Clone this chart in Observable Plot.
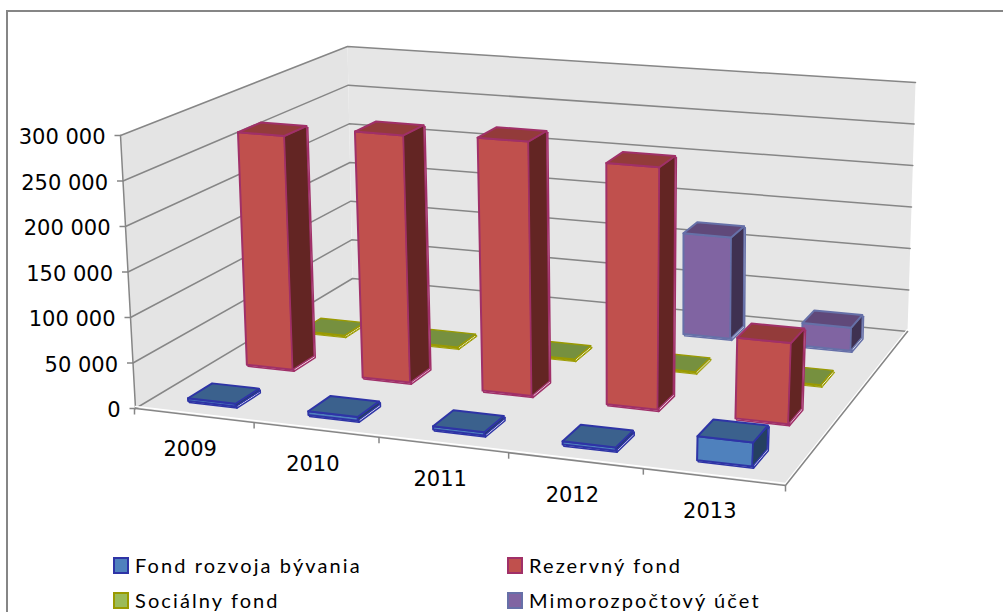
<!DOCTYPE html>
<html><head><meta charset="utf-8">
<script src="https://cdn.jsdelivr.net/npm/d3@7"></script>
<script src="https://cdn.jsdelivr.net/npm/@observablehq/plot@0.6"></script>
<style>
html,body{margin:0;padding:0;background:#fff;overflow:hidden}
#page{position:relative;width:1003px;height:612px;overflow:hidden}
#frame{position:absolute;left:6px;top:10px;width:1100px;height:700px;border-left:2px solid #868686;border-top:2px solid #868686}
#chart{position:absolute;left:0;top:0}
.lg{position:absolute;font:20px "Lato",sans-serif;letter-spacing:2.1px;color:#000;white-space:nowrap;line-height:20px}
.sw{position:absolute;width:12px;height:13px;border:2px solid}
</style></head><body>
<div id="page"><div id="frame"></div><div id="chart"></div><div id="legend"></div></div>
<script>
const years = ["2009","2010","2011","2012","2013"];
const seriesNames = ["Fond rozvoja bývania","Rezervný fond","Sociálny fond","Mimorozpočtový účet"];
const fondRozvoja = [3000,4000,3500,3500,25000];
const rezervny = [268500,280000,284000,267000,88000];
const socialny = [1000,1000,1000,1000,1000];
const mimorozpoctovy = [null,null,null,121000,27000];
const yTicks = [0,50000,100000,150000,200000,250000,300000];
const tickLabels = ["0","50 000","100 000","150 000","200 000","250 000","300 000"];
const faceColors = ["#4f81bd","#c0504d","#9bbb59","#8064a2"];
const topColors = ["#3b618d","#933b3a","#76903f","#60497a"];
const sideColors = ["#254061","#632523","#4f6228","#3f3151"];
const edgeColors = ["#2e34a6","#a03068","#9a9a00","#6670a8"];
const edgeWidths = [2,2,1.3,2];
const values = [fondRozvoja,rezervny,socialny,mimorozpoctovy];

// 3D → picture: perspective maps of the floor and the ceiling of the chart box
function quadMap(p0,p1,p2,p3){ // (0,0),(1,0),(1,1),(0,1)
  const dx1=p1[0]-p2[0],dx2=p3[0]-p2[0],sx=p0[0]-p1[0]+p2[0]-p3[0];
  const dy1=p1[1]-p2[1],dy2=p3[1]-p2[1],sy=p0[1]-p1[1]+p2[1]-p3[1];
  const d=dx1*dy2-dx2*dy1;
  const g=(sx*dy2-dx2*sy)/d,h=(dx1*sy-sx*dy1)/d;
  const a=p1[0]-p0[0]+g*p1[0],b=p3[0]-p0[0]+h*p3[0],c=p0[0];
  const e=p1[1]-p0[1]+g*p1[1],f=p3[1]-p0[1]+h*p3[1],k=p0[1];
  return (u,v)=>{const w=g*u+h*v+1;return [(a*u+b*v+c)/w,(e*u+f*v+k)/w];};
}
const floorMap = quadMap([135,408],[785,485],[907,331],[352,278]);
const ceilMap = quadMap([120,135],[798,192],[915,82],[347,46]);
const maxV = 300000;
function P(u,v,val){
  const a=floorMap(u,v),b=ceilMap(u,v),t=val/maxV;
  return [a[0]+(b[0]-a[0])*t,a[1]+(b[1]-a[1])*t];
}
const nC=years.length,nS=seriesNames.length,bw=0.4,uShift=-0.003;
const poly=(pts,o)=>Plot.line(pts,{x:d=>d[0],y:d=>d[1],strokeLinejoin:"round",...o});
const marks=[];
// walls and floor
marks.push(poly([P(0,0,0),P(0,1,0),P(0,1,maxV),P(0,0,maxV),P(0,0,0)],{fill:"#e4e4e4",stroke:"none"}));
marks.push(poly([P(0,1,0),P(1,1,0),P(1,1,maxV),P(0,1,maxV),P(0,1,0)],{fill:"#e6e6e6",stroke:"none"}));
marks.push(poly([P(0,0,0),P(1,0,0),P(1,1,0),P(0,1,0),P(0,0,0)],{fill:"#e6e6e6",stroke:"none"}));
// gridlines
for(const t of yTicks) marks.push(poly([P(0,0,t),P(0,1,t),P(1,1,t)],{stroke:"#868686",strokeWidth:1.5}));
marks.push(poly([P(0,0,0),P(0,0,maxV)],{stroke:"#868686",strokeWidth:1.5}));
marks.push(poly([P(0,0,0),P(1,0,0),P(1,1,0)],{stroke:"#ffffff",strokeWidth:1.5,dy:-2}));
marks.push(poly([P(0,0,0),P(1,0,0),P(1,1,0)],{stroke:"#868686",strokeWidth:1.5}));
// axis ticks and labels
const yT=yTicks.map((t,i)=>({p:P(0,0,t),label:tickLabels[i]}));
marks.push(Plot.link(yT,{x1:d=>d.p[0]-6,x2:d=>d.p[0],y1:d=>d.p[1],y2:d=>d.p[1],stroke:"#868686",strokeWidth:1.5}));
marks.push(Plot.text(yT,{x:d=>d.p[0],y:d=>d.p[1],text:"label",dx:-15,dy:2,textAnchor:"end",fontSize:21,fontFamily:"DejaVu Sans",fill:"#000"}));
const cT=d3.range(1,nC+1).map(k=>P(k/nC+(k<nC?uShift:0),0,0));
marks.push(Plot.link(cT,{x1:d=>d[0],x2:d=>d[0],y1:d=>d[1],y2:d=>d[1]+6,stroke:"#868686",strokeWidth:1.5}));
marks.push(Plot.link([P(0,0,0)],{x1:d=>d[0]-1,x2:d=>d[0]-1,y1:d=>d[1],y2:d=>d[1]+6,stroke:"#868686",strokeWidth:1.5}));
const cL=years.map((y,k)=>({p:P((k+.5)/nC,0,0),y}));
marks.push(Plot.text(cL,{x:d=>d.p[0],y:d=>d.p[1],text:"y",dx:-5,dy:34,fontSize:21,fontFamily:"DejaVu Sans",fill:"#000"}));
// bars, back row first
for(let s=nS-1;s>=0;s--){
  for(let k=0;k<nC;k++){
    const val=values[s][k];
    if(val==null) continue;
    const u0=(k+.5-bw/2)/nC+uShift,u1=(k+.5+bw/2)/nC+uShift,v0=(s+.5-bw/2)/nS,v1=(s+.5+bw/2)/nS;
    const front=[P(u0,v0,0),P(u1,v0,0),P(u1,v0,val),P(u0,v0,val),P(u0,v0,0)];
    const side=[P(u1,v0,0),P(u1,v1,0),P(u1,v1,val),P(u1,v0,val),P(u1,v0,0)];
    const top=[P(u0,v0,val),P(u1,v0,val),P(u1,v1,val),P(u0,v1,val),P(u0,v0,val)];
    const edge=edgeColors[s],sw=edgeWidths[s];
    // white offset outline beneath gives the bevelled rim of the faces
    for(const f of [front,side,top]) marks.push(poly(f,{fill:"#ffffff",stroke:edge,strokeWidth:sw*.75,dx:1.2,dy:1.6}));
    marks.push(poly(front,{fill:faceColors[s],stroke:edge,strokeWidth:sw}));
    marks.push(poly(side,{fill:sideColors[s],stroke:edge,strokeWidth:sw*.7}));
    marks.push(poly(top,{fill:topColors[s],stroke:edge,strokeWidth:sw}));
  }
}
const plot=Plot.plot({width:1003,height:545,margin:0,
  x:{domain:[0,1003],range:[0,1003],axis:null},
  y:{domain:[0,545],range:[0,545],axis:null},
  style:{background:"transparent"},marks});
document.getElementById("chart").append(plot);
// legend
const lgPos=[[113,557],[507,557],[113,592],[507,592]];
const lg=document.getElementById("legend");
seriesNames.forEach((n,i)=>{
  const sw=document.createElement("div");sw.className="sw";
  sw.style.left=lgPos[i][0]+"px";sw.style.top=lgPos[i][1]+"px";
  sw.style.background=faceColors[i];sw.style.borderColor=edgeColors[i];
  const t=document.createElement("div");t.className="lg";t.textContent=n;
  t.style.left=(lgPos[i][0]+22)+"px";t.style.top=(lgPos[i][1]-2)+"px";
  lg.append(sw,t);
});
</script></body></html>
